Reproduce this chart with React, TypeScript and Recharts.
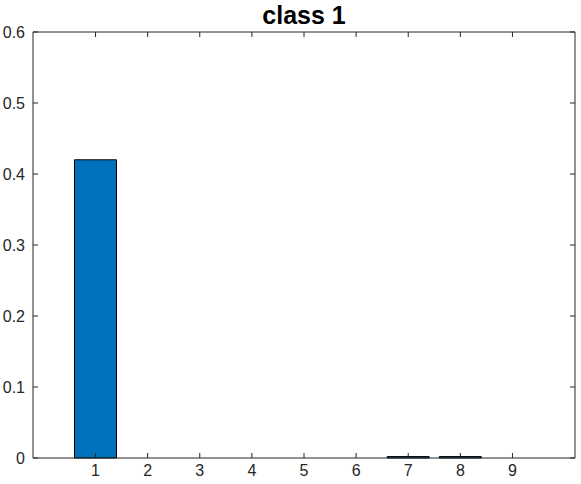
import React from "react"
import { BarChart, Bar, XAxis, YAxis } from "recharts"

const categories = [1, 2, 3, 4, 5, 6, 7, 8, 9]
const values = [0.42, 0, 0, 0, 0, 0, 0.002, 0.002, 0]
const yTicks = [0, 0.1, 0.2, 0.3, 0.4, 0.5, 0.6]
const title = "class 1"

const data = categories.map((c, i) => ({ x: c, value: values[i] }))

const W = 581
const H = 484
const margin = { top: 31, right: 5, bottom: 0, left: 0 }
const plotRight = W - margin.right - 1 // right axis is 1px wide
const tickLen = 5

const axisColor = "#262626"
const font = "'Liberation Sans', Arial, sans-serif"

function BottomTick(props: any) {
  const { x, y, payload } = props
  return (
    <g>
      <line x1={x} y1={y} x2={x} y2={y - tickLen} stroke={axisColor} />
      <text x={x} y={y + 18} textAnchor="middle" fill={axisColor} fontSize={16} fontFamily={font}>
        {payload.value}
      </text>
    </g>
  )
}

function TopTick(props: any) {
  const { x, y } = props
  return <line x1={x} y1={y} x2={x} y2={y + tickLen} stroke={axisColor} />
}

// left tick + label, plus the matching inward tick on the right edge of the box
function LeftTick(props: any) {
  const { x, y, payload } = props
  return (
    <g>
      <line x1={x} y1={y} x2={x + tickLen} y2={y} stroke={axisColor} />
      <line x1={plotRight} y1={y} x2={plotRight - tickLen} y2={y} stroke={axisColor} />
      <text x={x - 8} y={y + 6} textAnchor="end" fill={axisColor} fontSize={16} fontFamily={font}>
        {payload.value}
      </text>
    </g>
  )
}

export default function App() {
  return (
    <div style={{ position: "absolute", left: 0, top: 0, width: W, height: H, background: "#fff" }}>
      <div
        style={{
          position: "absolute",
          left: 33,
          width: 542,
          top: 0,
          textAlign: "center",
          fontFamily: font,
          fontWeight: "bold",
          fontSize: 25,
          lineHeight: "30px",
          color: "#000",
        }}
      >
        {title}
      </div>
      <BarChart width={W} height={H} data={data} margin={margin}>
        <XAxis
          xAxisId="bottom"
          dataKey="x"
          type="number"
          domain={[-0.2, 10.2]}
          ticks={categories}
          interval={0}
          height={26}
          tickSize={0}
          tickMargin={0}
          stroke={axisColor}
          tick={(p: any) => <BottomTick {...p} />}
        />
        <XAxis
          xAxisId="top"
          orientation="top"
          dataKey="x"
          type="number"
          domain={[-0.2, 10.2]}
          ticks={categories}
          interval={0}
          height={1}
          tickSize={0}
          tickMargin={0}
          stroke={axisColor}
          tick={(p: any) => <TopTick {...p} />}
        />
        <YAxis
          yAxisId="left"
          domain={[0, 0.6]}
          ticks={yTicks}
          interval={0}
          width={33}
          tickSize={0}
          tickMargin={0}
          stroke={axisColor}
          tick={(p: any) => <LeftTick {...p} />}
        />
        <YAxis
          yAxisId="right"
          orientation="right"
          domain={[0, 0.6]}
          width={1}
          stroke={axisColor}
          tick={false}
          tickLine={false}
        />
        <Bar
          xAxisId="bottom"
          yAxisId="left"
          dataKey="value"
          fill="#0072BD"
          stroke="#000"
          strokeWidth={1}
          barSize={42}
          isAnimationActive={false}
        />
      </BarChart>
    </div>
  )
}
